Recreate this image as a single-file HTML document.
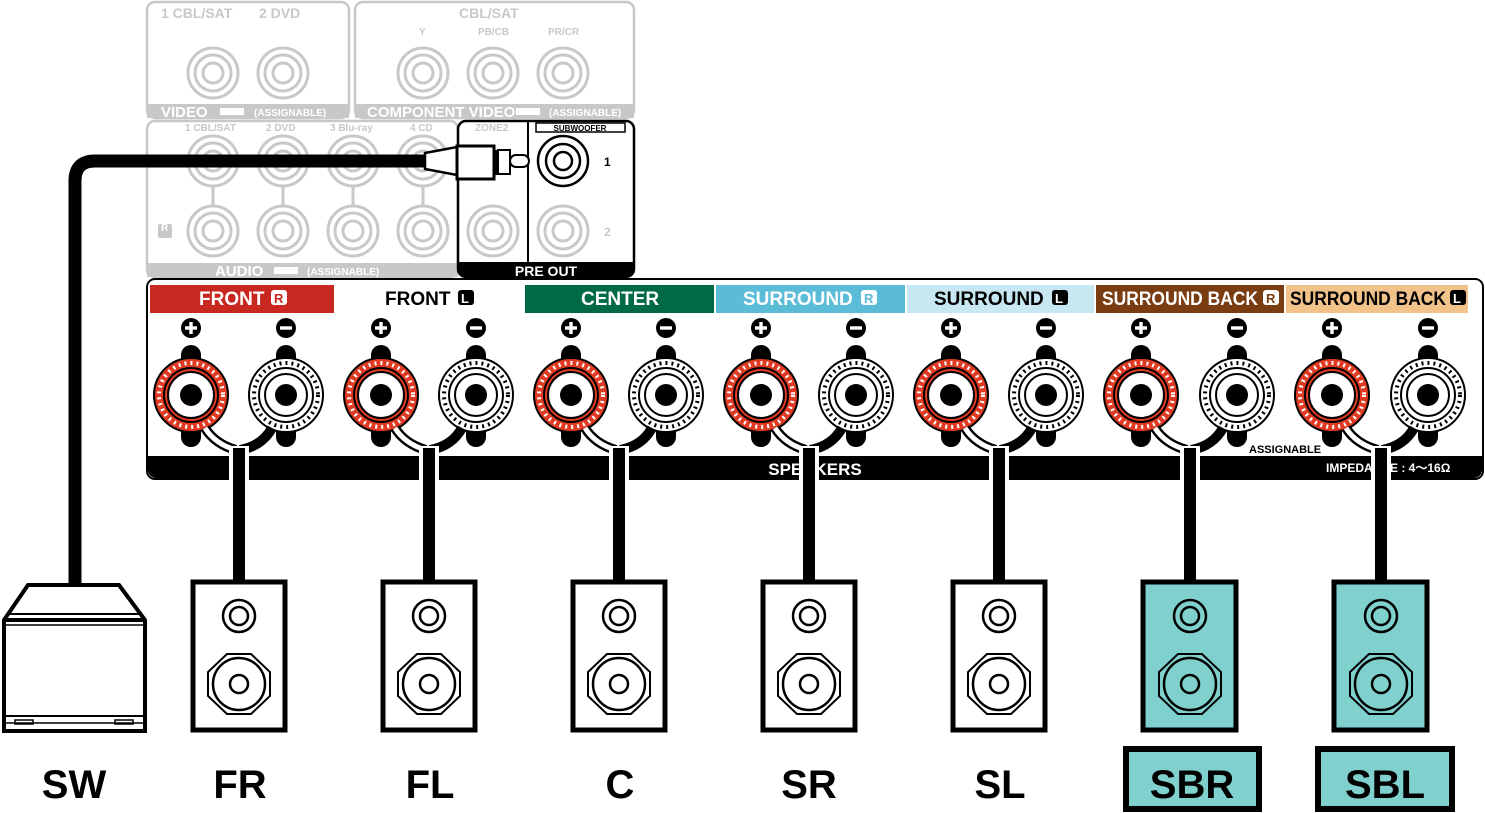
<!DOCTYPE html>
<html><head><meta charset="utf-8"><style>
html,body{margin:0;padding:0;background:#fff;}
svg{display:block;}
text{font-family:"Liberation Sans",Arial,sans-serif;font-weight:bold;}
</style></head><body>
<svg width="1485" height="813" viewBox="0 0 1485 813" xmlns="http://www.w3.org/2000/svg">
<defs>
<g id="jk">
<circle r="25" fill="none" stroke="#c8c8c8" stroke-width="3"/>
<circle r="18" fill="none" stroke="#c8c8c8" stroke-width="3"/>
<circle r="10" fill="none" stroke="#c8c8c8" stroke-width="3"/>
</g>
<g id="tr">
<rect x="-10" y="-50" width="20" height="30" rx="10" fill="#000"/>
<rect x="-10" y="20" width="20" height="32" rx="10" fill="#000"/>
<circle r="37" fill="#e03a22" stroke="#000" stroke-width="2"/>
<circle r="32" fill="none" stroke="#fff" stroke-width="4" stroke-dasharray="2 4"/>
<circle r="27" fill="#e03a22" stroke="#000" stroke-width="2"/>
<circle r="23" fill="#fff" stroke="#000" stroke-width="2"/>
<circle r="11" fill="#000"/>
</g>
<g id="tw">
<rect x="-10" y="-50" width="20" height="30" rx="10" fill="#000"/>
<rect x="-10" y="20" width="20" height="32" rx="10" fill="#000"/>
<circle r="37" fill="#fff" stroke="#000" stroke-width="2"/>
<circle r="32" fill="none" stroke="#000" stroke-width="4" stroke-dasharray="2 4"/>
<circle r="27" fill="#fff" stroke="#000" stroke-width="2"/>
<circle r="21" fill="#fff" stroke="#000" stroke-width="2"/>
<circle r="11" fill="#000"/>
</g>
<g id="plus"><circle r="10" fill="#000"/><rect x="-6" y="-1.7" width="12" height="3.4" fill="#fff"/><rect x="-1.7" y="-6" width="3.4" height="12" fill="#fff"/></g>
<g id="minus"><circle r="10" fill="#000"/><rect x="-6" y="-1.7" width="12" height="3.4" fill="#fff"/></g>
<g id="spk">
<circle cx="0" cy="36" r="16" fill="none" stroke="#000" stroke-width="2.5"/>
<circle cx="0" cy="36" r="9" fill="none" stroke="#000" stroke-width="2.5"/>
<polygon points="-12,74 12,74 31,92 31,116 12,134 -12,134 -31,116 -31,92" fill="none" stroke="#000" stroke-width="2"/>
<circle cx="0" cy="104" r="26" fill="none" stroke="#000" stroke-width="2.5"/>
<circle cx="0" cy="104" r="9" fill="none" stroke="#000" stroke-width="2.5"/>
</g>
</defs>

<!-- top grey panels -->
<g fill="none" stroke="#c8c8c8" stroke-width="2.5">
<rect x="147" y="2" width="202" height="116" rx="8"/>
<rect x="355" y="2" width="279" height="116" rx="8"/>
<rect x="147" y="121" width="311" height="156" rx="8"/>
</g>
<rect x="147" y="104" width="202" height="14" fill="#c8c8c8"/>
<rect x="355" y="104" width="279" height="14" fill="#c8c8c8"/>
<rect x="147" y="263" width="311" height="14" fill="#c8c8c8"/>
<g fill="#c8c8c8" font-size="14">
<text x="161" y="18">1 CBL/SAT</text><text x="259" y="18">2 DVD</text>
<text x="459" y="18">CBL/SAT</text>
<text x="419" y="35" font-size="10">Y</text><text x="478" y="35" font-size="10">PB/CB</text><text x="548" y="35" font-size="10">PR/CR</text>
<text x="185" y="131" font-size="10">1 CBL/SAT</text><text x="266" y="131" font-size="10">2 DVD</text><text x="330" y="131" font-size="10">3 Blu-ray</text><text x="410" y="131" font-size="10">4 CD</text>
<text x="475" y="131" font-size="10">ZONE2</text>
<rect x="158" y="224" width="14" height="14" rx="2"/>
</g>
<text x="161" y="231" font-size="10" fill="#fff">R</text>
<g fill="#fff">
<text x="161" y="117" font-size="15">VIDEO</text><text x="367" y="117" font-size="15">COMPONENT VIDEO</text><text x="215" y="276" font-size="15">AUDIO</text>
<text x="254" y="116" font-size="10">(ASSIGNABLE)</text><text x="549" y="116" font-size="10">(ASSIGNABLE)</text><text x="307" y="275" font-size="10">(ASSIGNABLE)</text>
</g>
<g fill="#fff"><rect x="220" y="108" width="24" height="7"/><rect x="516" y="108" width="24" height="7"/><rect x="274" y="267" width="24" height="7"/></g>
<use href="#jk" x="213" y="73"/><use href="#jk" x="283" y="73"/>
<use href="#jk" x="423" y="73"/><use href="#jk" x="493" y="73"/><use href="#jk" x="563" y="73"/>
<use href="#jk" x="213" y="161"/><use href="#jk" x="283" y="161"/><use href="#jk" x="353" y="161"/><use href="#jk" x="423" y="161"/>
<use href="#jk" x="213" y="231"/><use href="#jk" x="283" y="231"/><use href="#jk" x="353" y="231"/><use href="#jk" x="423" y="231"/>
<g stroke="#c8c8c8" stroke-width="3"><line x1="213" y1="186" x2="213" y2="206"/><line x1="283" y1="186" x2="283" y2="206"/><line x1="353" y1="186" x2="353" y2="206"/><line x1="423" y1="186" x2="423" y2="206"/><line x1="493" y1="186" x2="493" y2="206"/></g>
<!-- pre out -->
<rect x="458" y="121" width="176" height="156" rx="8" fill="#fff" stroke="#000" stroke-width="2.5"/>
<use href="#jk" x="493" y="231"/><use href="#jk" x="563" y="231"/>
<text x="475" y="131" font-size="10" fill="#c8c8c8">ZONE2</text>
<line x1="528" y1="121" x2="528" y2="264" stroke="#000" stroke-width="2"/>
<path d="M458,262 H634 V269 a8,8 0 0 1 -8,8 H466 a8,8 0 0 1 -8,-8z" fill="#000"/>
<text x="546" y="276" font-size="14" fill="#fff" text-anchor="middle">PRE OUT</text>
<rect x="536" y="123" width="89" height="9" fill="#fff" stroke="#000" stroke-width="1.5"/>
<text x="580" y="131" font-size="8" text-anchor="middle">SUBWOOFER</text>
<circle cx="563" cy="161" r="25" fill="#fff" stroke="#000" stroke-width="2.5"/>
<circle cx="563" cy="161" r="17" fill="none" stroke="#000" stroke-width="2.5"/>
<circle cx="563" cy="161" r="9" fill="none" stroke="#000" stroke-width="2.5"/>
<text x="604" y="166" font-size="12">1</text>
<text x="604" y="236" font-size="12" fill="#c8c8c8">2</text>
<!-- SW cable -->
<path d="M430,161 H95 Q75,161 75,181 V586" fill="none" stroke="#000" stroke-width="13"/>
<path d="M425,153 L457,147 V175 L425,169 Z" fill="#fff" stroke="#000" stroke-width="2.5"/>
<rect x="457" y="146" width="37" height="33" fill="#fff" stroke="#000" stroke-width="3"/>
<line x1="496" y1="150" x2="496" y2="175" stroke="#000" stroke-width="2"/>
<rect x="498" y="150" width="12" height="24" fill="#fff" stroke="#000" stroke-width="2"/>
<rect x="510" y="155" width="19" height="12" rx="6" fill="#fff" stroke="#000" stroke-width="2"/>

<!-- speaker panel -->
<rect x="147" y="279" width="1336" height="200" rx="8" fill="#fff" stroke="#000" stroke-width="2"/>
<rect x="150" y="285" width="184" height="28" fill="#c8281f"/>
<rect x="525" y="285" width="189" height="28" fill="#006a45"/>
<rect x="716" y="285" width="189" height="28" fill="#5bbcd8"/>
<rect x="907" y="285" width="187" height="28" fill="#c7e7f2"/>
<rect x="1096" y="285" width="188" height="28" fill="#7a3d12"/>
<rect x="1286" y="285" width="182" height="28" fill="#f1c28a"/>
<g font-size="19">
<text x="199" y="305" fill="#fff">FRONT</text><rect x="271" y="290" width="16" height="15" rx="3" fill="#fff"/><text x="274" y="303" font-size="13" fill="#c8281f">R</text>
<text x="385" y="305">FRONT</text><rect x="458" y="290" width="16" height="15" rx="3"/><text x="461" y="303" font-size="13" fill="#fff">L</text>
<text x="581" y="305" fill="#fff">CENTER</text>
<text x="743" y="305" fill="#fff">SURROUND</text><rect x="861" y="290" width="16" height="15" rx="3" fill="#fff"/><text x="864" y="303" font-size="13" fill="#5bbcd8">R</text>
<text x="934" y="305">SURROUND</text><rect x="1052" y="290" width="16" height="15" rx="3"/><text x="1055" y="303" font-size="13" fill="#fff">L</text>
<text x="1102" y="305" fill="#fff" textLength="156" lengthAdjust="spacingAndGlyphs">SURROUND BACK</text><rect x="1263" y="290" width="16" height="15" rx="3" fill="#fff"/><text x="1266" y="303" font-size="13" fill="#7a3d12">R</text>
<text x="1290" y="305" textLength="156" lengthAdjust="spacingAndGlyphs">SURROUND BACK</text><rect x="1450" y="290" width="16" height="15" rx="3"/><text x="1453" y="303" font-size="13" fill="#fff">L</text>
</g>
<!-- bottom bar -->
<path d="M148,456 H1482 V470 a8,8 0 0 1 -8,8 H156 a8,8 0 0 1 -8,-8z" fill="#000"/>
<text x="815" y="475" font-size="17" fill="#fff" text-anchor="middle">SPEAKERS</text>
<text x="1326" y="472" font-size="12" fill="#fff">IMPEDANCE : 4～16Ω</text>
<text x="1249" y="453" font-size="11">ASSIGNABLE</text>

<!-- terminals -->
<g id="ch">
</g>
<g>
<use href="#plus" x="191" y="328"/><use href="#minus" x="286" y="328"/>
<use href="#plus" x="381" y="328"/><use href="#minus" x="476" y="328"/>
<use href="#plus" x="571" y="328"/><use href="#minus" x="666" y="328"/>
<use href="#plus" x="761" y="328"/><use href="#minus" x="856" y="328"/>
<use href="#plus" x="951" y="328"/><use href="#minus" x="1046" y="328"/>
<use href="#plus" x="1141" y="328"/><use href="#minus" x="1237" y="328"/>
<use href="#plus" x="1332" y="328"/><use href="#minus" x="1428" y="328"/>
<use href="#tr" x="191" y="395"/><use href="#tw" x="286" y="395"/>
<use href="#tr" x="381" y="395"/><use href="#tw" x="476" y="395"/>
<use href="#tr" x="571" y="395"/><use href="#tw" x="666" y="395"/>
<use href="#tr" x="761" y="395"/><use href="#tw" x="856" y="395"/>
<use href="#tr" x="951" y="395"/><use href="#tw" x="1046" y="395"/>
<use href="#tr" x="1141" y="395"/><use href="#tw" x="1237" y="395"/>
<use href="#tr" x="1332" y="395"/><use href="#tw" x="1428" y="395"/>
</g>
<!-- wires -->
<g fill="none">
<g stroke="#000" stroke-width="10">
<path d="M205,428 Q215,444 236,450"/><path d="M395,428 Q405,444 426,450"/><path d="M585,428 Q595,444 616,450"/><path d="M775,428 Q785,444 806,450"/><path d="M965,428 Q975,444 996,450"/><path d="M1155,428 Q1165,444 1187,450"/><path d="M1346,428 Q1356,444 1378,450"/>
</g>
<g stroke="#fff" stroke-width="5">
<path d="M205,428 Q215,444 236,450"/><path d="M395,428 Q405,444 426,450"/><path d="M585,428 Q595,444 616,450"/><path d="M775,428 Q785,444 806,450"/><path d="M965,428 Q975,444 996,450"/><path d="M1155,428 Q1165,444 1187,450"/><path d="M1346,428 Q1356,444 1378,450"/>
</g>
<g stroke="#000" stroke-width="10">
<path d="M272,428 Q262,446 240,450"/><path d="M462,428 Q452,446 430,450"/><path d="M652,428 Q642,446 620,450"/><path d="M842,428 Q832,446 810,450"/><path d="M1032,428 Q1022,446 1000,450"/><path d="M1223,428 Q1213,446 1191,450"/><path d="M1414,428 Q1404,446 1382,450"/>
</g>
</g>
<!-- cables -->
<g fill="#000" stroke="#fff" stroke-width="8" paint-order="stroke">
<rect x="233" y="450" width="12" height="132"/><rect x="423" y="450" width="12" height="132"/><rect x="613" y="450" width="12" height="132"/><rect x="803" y="450" width="12" height="132"/><rect x="993" y="450" width="12" height="132"/><rect x="1184" y="450" width="12" height="132"/><rect x="1375" y="450" width="12" height="132"/>
</g>
<g fill="#000">
<rect x="233" y="448" width="12" height="134"/><rect x="423" y="448" width="12" height="134"/><rect x="613" y="448" width="12" height="134"/><rect x="803" y="448" width="12" height="134"/><rect x="993" y="448" width="12" height="134"/><rect x="1184" y="448" width="12" height="134"/><rect x="1375" y="448" width="12" height="134"/>
</g>

<!-- speakers -->
<g stroke="#000" stroke-width="5" fill="#fff">
<rect x="193" y="582" width="92" height="148"/>
<rect x="383" y="582" width="92" height="148"/>
<rect x="573" y="582" width="92" height="148"/>
<rect x="763" y="582" width="92" height="148"/>
<rect x="953" y="582" width="92" height="148"/>
<rect x="1143" y="582" width="93" height="148" fill="#80d0cd"/>
<rect x="1334" y="582" width="93" height="148" fill="#80d0cd"/>
</g>
<use href="#spk" x="239" y="580"/><use href="#spk" x="429" y="580"/><use href="#spk" x="619" y="580"/><use href="#spk" x="809" y="580"/><use href="#spk" x="999" y="580"/><use href="#spk" x="1190" y="580"/><use href="#spk" x="1381" y="580"/>
<!-- SW -->
<path d="M28,585 H119 L145,620 V731 H4 V620 Z" fill="#fff" stroke="#000" stroke-width="4"/>
<line x1="4" y1="620" x2="145" y2="620" stroke="#000" stroke-width="4"/>
<line x1="9" y1="614" x2="140" y2="614" stroke="#000" stroke-width="2"/>
<line x1="6" y1="625" x2="143" y2="625" stroke="#000" stroke-width="1.5"/>
<line x1="6" y1="716" x2="143" y2="716" stroke="#000" stroke-width="2"/>
<line x1="6" y1="723" x2="143" y2="723" stroke="#000" stroke-width="1.5"/>
<rect x="15" y="720" width="18" height="4" fill="none" stroke="#000" stroke-width="1.5"/>
<rect x="115" y="720" width="18" height="4" fill="none" stroke="#000" stroke-width="1.5"/>
<!-- labels -->
<rect x="1126" y="749" width="133" height="60" fill="#80d0cd" stroke="#000" stroke-width="6"/>
<rect x="1318" y="749" width="134" height="60" fill="#80d0cd" stroke="#000" stroke-width="6"/>
<g font-size="40" text-anchor="middle">
<text x="74" y="798">SW</text><text x="240" y="798">FR</text><text x="430" y="798">FL</text><text x="620" y="798">C</text><text x="809" y="798">SR</text><text x="1000" y="798">SL</text><text x="1192" y="798">SBR</text><text x="1385" y="798">SBL</text>
</g>
</svg>
</body></html>
